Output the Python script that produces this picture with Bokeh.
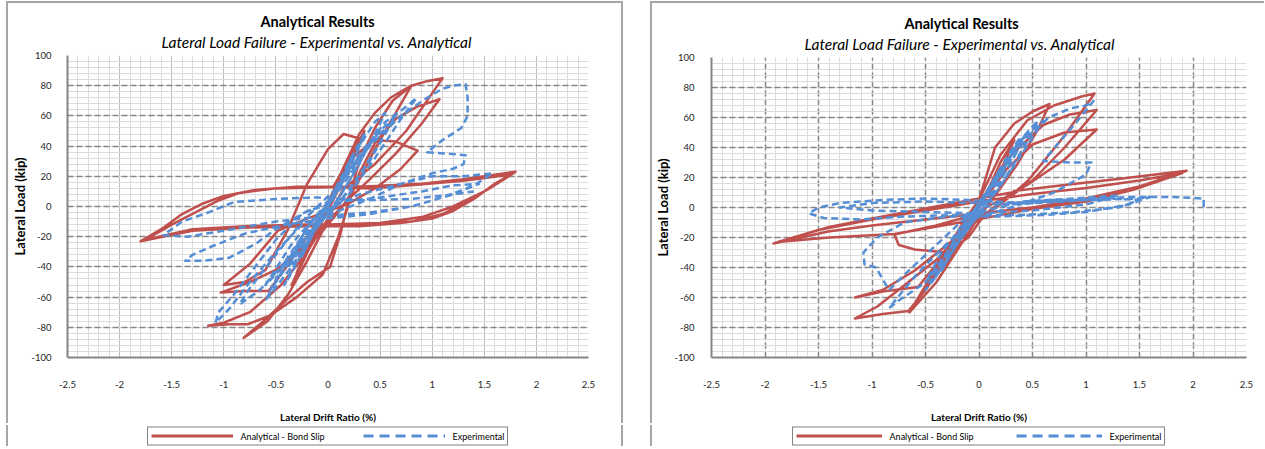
import numpy as np
from bokeh.plotting import figure
from bokeh.models import Range1d, FixedTicker, Title, Legend, LegendItem, Spacer
from bokeh.layouts import row, column
from bokeh.embed import file_html
from bokeh.resources import INLINE

TITLE = "Analytical Results"
SUBTITLE = "Lateral Load Failure - Experimental vs. Analytical"
X_LABEL = "Lateral Drift Ratio (%)"
Y_LABEL = "Lateral Load (kip)"
SERIES_NAMES = ["Analytical - Bond Slip", "Experimental"]

x_ticks = [-2.5, -2.0, -1.5, -1.0, -0.5, 0.0, 0.5, 1.0, 1.5, 2.0, 2.5]
x_tick_labels = ["-2.5", "-2", "-1.5", "-1", "-0.5", "0", "0.5", "1", "1.5", "2", "2.5"]
y_ticks = [-100, -80, -60, -40, -20, 0, 20, 40, 60, 80, 100]
y_tick_labels = ["-100", "-80", "-60", "-40", "-20", "0", "20", "40", "60", "80", "100"]

# ---------------- left chart ----------------
ana_left_drift = [
    0, 0.1, 0.2, 0.28, 0.18, 0.05, -0.08, -0.2, -0.3, -0.2, -0.06, 0.05,
    0.1, 0.25, 0.35, 0.2, 0.05, -0.1, -0.25, -0.35, -0.2, -0.05,
    0.15, 0.3, 0.45, 0.6, 0.72, 0.8, 0.65, 0.45, 0.28, 0.12, -0.05, -0.2, -0.38, -0.58, -0.81, -0.62, -0.4, -0.2, 0.02, 0.12, 0.2,
    0.3, 0.45, 0.62, 0.8, 0.95, 1.1, 0.75, 0.45, 0.15, 0.0, -0.2, -0.45, -0.75, -1.0, -1.15, -0.95, -0.77, -0.55, -0.3, -0.05, 0.1, 0.2,
    0.3, 0.45, 0.65, 0.85, 1.07, 0.9, 0.65, 0.4, 0.2, 0.0, -0.25, -0.5, -0.75, -1.03, -0.8, -0.57, -0.4, -0.2, 0.0,
    0.2, 0.44, 0.65, 0.86, 0.7, 0.45, 0.2, -0.2, -0.48, -0.75, -1.0, -0.8, -0.6, -0.39, -0.2, 0.0, 0.15, 0.3, 0.15, 0.05,
    0.4, 0.8, 1.2, 1.5, 1.8, 1.6, 1.4, 1.2, 1.0, 0.7, 0.3, -0.2, -0.8, -1.3, -1.8, -1.6, -1.4, -1.2, -1.0, -0.7,
    -0.3, 0.3, 0.9, 1.3, 1.78, 1.55, 1.3, 1.1, 0.8, 0.4, -0.2, -0.8, -1.3, -1.75, -1.5, -1.25, -1.05, -0.85, -0.5, 0.2,
    0.8, 1.3, 1.75, 1.5, 1.2, 0.9, 0.5, 0.0]
ana_left_load = [
    0, 16, 30, 40, 24, 4, -12, -30, -44, -28, -6, 10,
    18, 38, 50, 28, 5, -16, -38, -52, -30, -6,
    26, 48, 62, 72, 77, 80, 62, 38, 15, -2, -16, -36, -58, -76, -87, -76, -62, -50, -40, -18, 5,
    30, 52, 70, 80, 83, 85, 50, 28, 12, -8, -30, -52, -70, -77, -79, -78, -78, -72, -60, -45, -20, 2,
    22, 42, 58, 66, 71, 55, 35, 18, 5, -10, -28, -42, -50, -57, -56, -56, -40, -20, -2,
    30, 44, 43, 37, 25, 12, 2, -8, -16, -38, -52, -50, -42, -16, 15, 38, 48, 45, 25, 13,
    12, 14, 17, 20, 23, 15, 5, -3, -8, -11, -13, -13, -14, -16, -23, -15, -5, 2, 7, 11,
    13, 13, 15, 18, 22, 12, 2, -5, -10, -12, -12, -13, -15, -22, -12, -3, 4, 9, 12, 13,
    14, 17, 21, 10, 0, -7, -11, -12]

exp_left_drift = [
    0, 0.05, 0.1, 0.06, -0.03, -0.08, -0.12, -0.06, 0.02,
    0.1, 0.18, 0.22, 0.15, 0.02, -0.1, -0.2, -0.25, -0.16, -0.03,
    0.12, 0.25, 0.35, 0.28, 0.12, -0.05, -0.2, -0.35, -0.42, -0.3, -0.1,
    0.1, 0.3, 0.45, 0.55, 0.45, 0.25, 0.05, -0.15, -0.35, -0.55, -0.6, -0.45, -0.2,
    0.05, 0.3, 0.55, 0.75, 0.85, 0.7, 0.45, 0.2, -0.05, -0.35, -0.65, -0.85, -0.75, -0.5, -0.25,
    0.05, 0.4, 0.7, 0.95, 1.1, 1.2, 1.32, 1.34, 1.34, 1.28, 1.1, 0.95, 1.15, 1.32, 1.3, 1.2, 1.0, 0.7, 0.4, 0.1,
    -0.25, -0.5, -0.75, -0.95, -1.08, -1.05, -0.9, -0.7, -0.5, -0.25, 0.0,
    0.2, 0.45, 0.6, 0.4, 0.1, -0.2, -0.5, -0.6, -0.35, 0.0,
    0.1, 0.3, 0.4, 0.3, 0.1, -0.1, -0.3, -0.38, -0.25, 0.0,
    0.15, 0.5, 0.65, 0.5, 0.2, -0.15, -0.45, -0.55, -0.4, -0.1,
    0.3, 0.7, 1.0, 1.3, 1.58, 1.4, 1.1, 0.8, 0.4, 0, -0.4, -0.8, -1.1, -1.3, -1.37, -1.2, -0.95, -0.7, -0.5, -0.2, 0.1,
    0.5, 0.9, 1.2, 1.45, 1.2, 0.8, 0.4, 0, -0.5, -1.0, -1.35, -1.58, -1.4, -1.15, -0.9, -0.5, -0.1, 0.3, 0.8, 1.2, 1.4]
exp_left_load = [
    0, 7, 14, 6, -3, -10, -16, -6, 3,
    16, 26, 32, 20, 2, -12, -26, -33, -20, -2,
    18, 36, 48, 36, 14, -5, -24, -44, -52, -36, -10,
    12, 40, 56, 62, 48, 22, 0, -18, -40, -58, -62, -44, -14,
    6, 34, 56, 66, 72, 58, 32, 8, -8, -32, -55, -65, -54, -32, -10,
    10, 40, 60, 72, 78, 80, 81, 72, 60, 52, 44, 36, 35, 34, 28, 25, 22, 15, 5, -3,
    -12, -30, -50, -68, -77, -70, -58, -40, -22, -5, 3,
    22, 45, 55, 30, 2, -20, -45, -52, -25, 3,
    10, 30, 42, 28, 5, -12, -32, -40, -22, 0,
    20, 50, 60, 42, 10, -15, -45, -55, -35, -5,
    8, 15, 20, 20, 22, 14, 6, 0, -5, -8, -12, -18, -26, -32, -36, -36, -34, -25, -15, -3, 3,
    6, 10, 14, 15, 8, 0, -4, -6, -10, -16, -20, -19, -10, -4, 3, 5, 6, 4, 5, 8, 10]

# ---------------- right chart ----------------
ana_right_drift = [
    0, 0.08, 0.15, 0.1, 0.0, -0.08, -0.15, -0.08, 0,
    0.1, 0.2, 0.33, 0.25, 0.1, -0.05, -0.2, -0.33, -0.25, -0.1, 0.0,
    0.15, 0.33, 0.5, 0.66, 0.55, 0.35, 0.15, 0.0, -0.2, -0.4, -0.55, -0.65, -0.55, -0.35, -0.15, 0.0,
    0.2, 0.45, 0.7, 0.96, 1.08, 0.8, 0.46, 0.2, -0.1, -0.4, -0.7, -0.95, -1.16, -0.9, -0.66, -0.5, -0.3, -0.1, 0.05,
    0.3, 0.6, 0.85, 1.1, 0.8, 0.5, 0.25, 0.0, -0.3, -0.6, -0.9, -1.16, -0.9, -0.57, -0.4, -0.2, 0.0,
    0.25, 0.5, 0.8, 1.1, 0.8, 0.45, 0.2, -0.1, -0.4, -0.79, -0.75, -0.6, -0.3, -0.1, 0.05,
    0.33, 0.8, 1.3, 1.94, 1.5, 1.0, 0.5, 0, -0.5, -1.0, -1.41, -1.92, -1.5, -1.0, -0.5, 0, 0.5, 1.0, 1.5, 1.9,
    1.45, 1.0, 0.5, -0.1, -0.79, -1.4, -1.88, -1.4, -0.9, -0.3, 0.3]
ana_right_load = [
    0, 10, 20, 12, 0, -10, -20, -9, 0,
    14, 30, 45, 32, 10, -5, -25, -42, -28, -8, 5,
    40, 56, 64, 69, 52, 28, 8, -6, -28, -50, -62, -70, -58, -35, -10, 5,
    35, 58, 68, 74, 76, 48, 18, 2, -12, -35, -52, -66, -74, -71, -69, -55, -32, -8, 8,
    35, 55, 62, 65, 40, 18, 5, -8, -25, -42, -55, -60, -56, -53, -38, -18, 0,
    25, 42, 50, 52, 32, 15, 5, -6, -12, -18, -25, -28, -30, -20, -5,
    11, 15, 19, 24.5, 14, 6, 0, -4, -8, -12, -16, -24, -15, -8, -2, 4, 9, 13, 18, 23,
    12, 4, -1, -9, -17.6, -20, -23, -13, -6, 2, 10]

exp_right_drift = [
    0, 0.05, 0.1, 0.05, -0.05, -0.1, -0.04, 0.03,
    0.12, 0.2, 0.14, 0.0, -0.12, -0.2, -0.12, 0.0,
    0.15, 0.3, 0.38, 0.28, 0.1, -0.1, -0.25, -0.35, -0.25, -0.05,
    0.2, 0.4, 0.55, 0.45, 0.2, 0.0, -0.2, -0.4, -0.5, -0.38, -0.15,
    0.1, 0.4, 0.65, 0.85, 1.0, 1.07, 0.9, 0.6, 0.85, 1.05, 1.0, 0.7, 0.3, 0.0, -0.3, -0.6, -0.84, -0.75, -0.5, -0.3, -0.1,
    0.2, 0.45, 0.6, 0.35, 0.05, -0.25, -0.5, -0.35, -0.05,
    0.15, 0.35, 0.45, 0.3, 0.1, -0.15, -0.35, -0.42, -0.3, 0.0,
    0.3, 0.7, 1.1, 1.5, 1.6, 1.4, 1.0, 0.6, 0.2, -0.3, -0.7, -0.95, -1.08, -1.07, -0.96, -0.9, -0.84, -0.7, -0.4, -0.1,
    0.4, 0.9, 1.3, 1.0, 0.5, 0.0, -0.5, -1.0, -1.3, -1.0, -0.5, 0.0,
    0.3, 0.8, 1.2, 1.5, 1.3, 0.9, 0.4, -0.2, -0.7, -1.1, -1.45, -1.59, -1.5, -1.3, -0.9, -0.5, -0.1, 0.4, 0.9, 1.4, 1.8, 2.1, 2.1]
exp_right_load = [
    0, 6, 12, 4, -6, -12, -4, 4,
    16, 26, 16, 0, -14, -24, -12, 2,
    20, 38, 46, 32, 8, -12, -30, -42, -28, -4,
    24, 46, 58, 44, 14, -4, -24, -46, -55, -40, -12,
    12, 42, 60, 66, 68, 71, 56, 31, 30, 30, 22, 10, 0, -6, -24, -46, -67, -62, -50, -30, -8,
    25, 48, 58, 30, 0, -28, -50, -30, -2,
    18, 40, 50, 30, 6, -18, -40, -48, -30, 0,
    3, 5, 5, 6, 7, 2, -3, -5, -6, -6, -10, -20, -30, -38, -40, -48, -55, -45, -25, -5,
    4, 6, 8, 2, -2, -4, -3, -2, 0, 3, 4, 3,
    2, 4, 6, 5, 0, -3, -5, -5, -6, -8, -7, -4, 0, 3, 5, 6, 5, 3, 5, 7, 7, 6, -2]

RED = "#C0504D"
BLUE = "#558ED5"
GRID_DARK = "#868686"
GRID_MINOR = "#dcdcdc"
FONT = "Lato"
FRAME_COL = "#a6a6a6"


def build(ana_x, ana_y, exp_x, exp_y, frame_w, frame_h, mb_left, mb_right, mb_top, mb_bottom,
          main_offset, sub_offset, dashed_x_major, y_standoff, shadow):
    p = figure(frame_width=frame_w, frame_height=frame_h,
               x_range=Range1d(-2.5, 2.5), y_range=Range1d(-100, 100),
               output_backend="svg", toolbar_location=None,
               min_border_left=mb_left, min_border_right=mb_right,
               min_border_top=mb_top, min_border_bottom=mb_bottom)
    p.title.visible = False
    p.outline_line_color = None
    p.background_fill_color = "white"
    p.border_fill_color = "white"

    p.xaxis.ticker = FixedTicker(ticks=x_ticks,
                                 minor_ticks=[round(v, 2) for v in np.arange(-2.5, 2.5001, 0.1)])
    p.yaxis.ticker = FixedTicker(ticks=y_ticks,
                                 minor_ticks=[float(v) for v in np.arange(-100, 100.001, 4)])
    p.xaxis.major_label_overrides = {float(t): s for t, s in zip(x_ticks, x_tick_labels)}
    p.yaxis.major_label_overrides = {float(t): s for t, s in zip(y_ticks, y_tick_labels)}

    for ax in (p.xaxis, p.yaxis):
        ax.axis_line_color = GRID_DARK
        ax.axis_line_width = 2
        ax.major_tick_line_color = None
        ax.minor_tick_line_color = None
        ax.major_tick_out = 0
        ax.minor_tick_out = 0
        ax.major_tick_in = 0
        ax.minor_tick_in = 0
        ax.major_label_text_font = FONT
        ax.major_label_text_font_size = "9.5px"
        ax.major_label_text_color = "#262626"
        ax.axis_label_text_font = FONT
        ax.axis_label_text_font_style = "bold"
        ax.axis_label_text_color = "black"
    p.xaxis.axis_label = X_LABEL
    p.xaxis.axis_label_text_font_size = "10px"
    p.xaxis.major_label_standoff = 23
    p.xaxis.axis_label_standoff = 20
    p.yaxis.axis_label = Y_LABEL
    p.yaxis.axis_label_text_font_size = "13px"
    p.yaxis.major_label_standoff = y_standoff
    p.yaxis.axis_label_standoff = 0

    p.ygrid.grid_line_color = GRID_DARK
    p.ygrid.grid_line_width = 1.5
    p.ygrid.grid_line_dash = "6 3"
    p.ygrid.minor_grid_line_color = GRID_MINOR
    p.xgrid.minor_grid_line_color = GRID_MINOR
    if dashed_x_major:
        p.xgrid.grid_line_color = GRID_DARK
        p.xgrid.grid_line_width = 1.5
        p.xgrid.grid_line_dash = "6 3"
    else:
        p.xgrid.grid_line_color = "#bcbcbc"
        p.xgrid.grid_line_width = 1

    p.line(ana_x, ana_y, line_color=RED, line_width=2.5, line_join="round")
    p.line(exp_x, exp_y, line_color=BLUE, line_width=2.5, line_dash="7 4", line_join="round")

    sub = Title(text=SUBTITLE, align="left", offset=sub_offset, standoff=6, vertical_align="top",
                text_font=FONT, text_font_size="15.5px", text_font_style="italic", text_color="black")
    p.add_layout(sub, "above")
    main = Title(text=TITLE, align="left", offset=main_offset, standoff=0, text_font=FONT,
                 text_font_size="14.5px", text_font_style="bold", text_color="black")
    p.add_layout(main, "above")

    p.styles = {"box-shadow": shadow}
    return p


def build_legend(ana_x, ana_y, exp_x, exp_y, frame_w, mb_left, mb_right, glyph_w, spacing):
    # legend strip under a chart; its renderers reuse the chart's series but lie outside the visible range
    lf = figure(frame_width=frame_w, frame_height=21, x_range=Range1d(10, 11), y_range=Range1d(500, 501),
                output_backend="svg", toolbar_location=None,
                x_axis_location=None, y_axis_location=None,
                min_border_left=mb_left, min_border_right=mb_right,
                min_border_top=0, min_border_bottom=0)
    lf.title.visible = False
    lf.outline_line_color = None
    lf.grid.visible = False
    lf.background_fill_color = "white"
    lf.border_fill_color = "white"
    r_ana = lf.line(ana_x, ana_y, line_color=RED, line_width=3)
    r_exp = lf.line(exp_x, exp_y, line_color=BLUE, line_width=3, line_dash="10 6")
    legend = Legend(items=[LegendItem(label=SERIES_NAMES[0], renderers=[r_ana]),
                           LegendItem(label=SERIES_NAMES[1], renderers=[r_exp])],
                    orientation="horizontal", location="center",
                    border_line_color="black", border_line_width=1.5,
                    background_fill_color="white", background_fill_alpha=1,
                    label_text_font=FONT, label_text_font_size="9px", label_text_color="black",
                    glyph_width=glyph_w, glyph_height=10, label_height=10, label_standoff=8,
                    spacing=spacing, padding=3, margin=0)
    lf.add_layout(legend)
    return lf


p1 = build(ana_left_drift, ana_left_load, exp_left_drift, exp_left_load,
           frame_w=521, frame_h=302, mb_left=59, mb_right=33, mb_top=52, mb_bottom=68,
           main_offset=193, sub_offset=94, dashed_x_major=False, y_standoff=16,
           shadow="-2px -2px 0 0 %s, 2px -2px 0 0 %s" % (FRAME_COL, FRAME_COL))
p2 = build(ana_right_drift, ana_right_load, exp_right_drift, exp_right_load,
           frame_w=535, frame_h=300, mb_left=58, mb_right=20, mb_top=54, mb_bottom=68,
           main_offset=193, sub_offset=93, dashed_x_major=True, y_standoff=17,
           shadow="-2px -2px 0 0 %s" % FRAME_COL)
lf1 = build_legend(ana_left_drift, ana_left_load, exp_left_drift, exp_left_load,
                   521, 59, 33, 82, 38)
lf2 = build_legend(ana_right_drift, ana_right_load, exp_right_drift, exp_right_load,
                   535, 58, 20, 86, 42)
lf1.styles = {"box-shadow": "-2px 0 0 0 %s, 2px 0 0 0 %s" % (FRAME_COL, FRAME_COL)}
lf2.styles = {"box-shadow": "-2px 0 0 0 %s" % FRAME_COL}

layout = column(Spacer(width=1265, height=3),
                row(Spacer(width=8, height=446), column(p1, lf1),
                    Spacer(width=31, height=446), column(p2, lf2)))
open("out.html", "w").write(file_html(layout, INLINE))
